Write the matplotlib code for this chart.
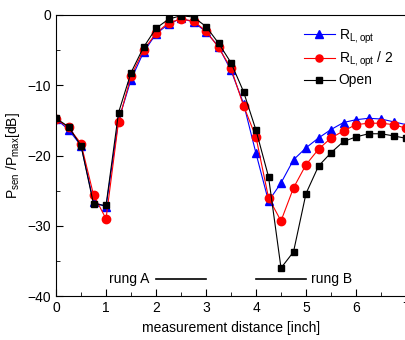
import numpy as np
import matplotlib
matplotlib.use("Agg")
import matplotlib.pyplot as plt
from matplotlib.ticker import MultipleLocator

plt.rcParams['font.family'] = ['Liberation Sans', 'DejaVu Sans']
plt.rcParams['mathtext.fontset'] = 'custom'
plt.rcParams['mathtext.rm'] = 'Liberation Sans'

# measurement distance [inch]
distance = [0, 0.25, 0.5, 0.75, 1.0, 1.25, 1.5, 1.75, 2.0, 2.25, 2.5, 2.75,
            3.0, 3.25, 3.5, 3.75, 4.0, 4.25, 4.5, 4.75, 5.0, 5.25, 5.5, 5.75,
            6.0, 6.25, 6.5, 6.75, 7.0]

p_ropt = [-14.8, -16.3, -18.6, -26.6, -27.3, -15.0, -9.2, -5.3, -2.7, -1.3,
          -0.5, -1.0, -2.4, -4.5, -7.9, -12.6, -19.7, -26.5, -23.9, -20.6,
          -18.9, -17.5, -16.3, -15.3, -14.9, -14.7, -14.8, -15.2, -15.6]

p_ropt_half = [-14.8, -16.0, -18.3, -25.6, -29.0, -15.2, -8.7, -5.0, -2.6, -1.1,
               -0.6, -0.85, -2.3, -4.6, -7.6, -12.9, -17.4, -26.0, -29.3, -24.6,
               -21.3, -19.1, -17.5, -16.5, -15.6, -15.4, -15.4, -15.6, -16.1]

p_open = [-14.7, -15.9, -18.6, -26.9, -27.1, -13.9, -8.2, -4.6, -1.9, -0.6,
          -0.1, -0.3, -1.65, -4.0, -6.8, -10.9, -16.4, -23.0, -36.0, -33.7,
          -25.4, -21.5, -19.6, -18.0, -17.35, -16.9, -16.9, -17.2, -17.55]

fig = plt.figure(figsize=(4.06, 3.4), dpi=100)
ax = fig.add_axes([0.138, 0.129, 0.862, 0.827])

ax.plot(distance, p_ropt, color='blue', marker='^', ms=6, lw=0.8,
        label=r'R$_{\mathrm{L,opt}}$')
ax.plot(distance, p_ropt_half, color='red', marker='o', ms=6, lw=0.8,
        label=r'R$_{\mathrm{L,opt}}$ / 2')
ax.plot(distance, p_open, color='black', marker='s', ms=5, lw=0.8,
        label='Open')

# rung markers
ax.plot([2.0, 3.0], [-37.6, -37.6], color='black', lw=1.2)
ax.plot([4.0, 5.0], [-37.6, -37.6], color='black', lw=1.2)
ax.text(1.47, -37.6, 'rung A', ha='center', va='center', fontsize=10)
ax.text(5.1, -37.6, 'rung B', ha='left', va='center', fontsize=10)

ax.set_xlim(0, 7)
ax.set_ylim(-40, 0)
ax.xaxis.set_major_locator(MultipleLocator(1))
ax.xaxis.set_minor_locator(MultipleLocator(0.5))
ax.yaxis.set_major_locator(MultipleLocator(10))
ax.yaxis.set_minor_locator(MultipleLocator(5))
ax.tick_params(which='both', direction='in', labelsize=10)
ax.tick_params(which='major', length=5)
ax.tick_params(which='minor', length=3)

ax.set_xlabel('measurement distance [inch]', fontsize=10)
ax.set_ylabel(r'P$_{\mathrm{sen}}$ /P$_{\mathrm{max}}$[dB]', fontsize=10)

ax.legend(loc='upper right', frameon=False, fontsize=10, markerscale=0.85,
          handlelength=2.2, handletextpad=0.3, labelspacing=0.3,
          bbox_to_anchor=(1.0, 1.0))

fig.savefig('out.png', dpi=100)
